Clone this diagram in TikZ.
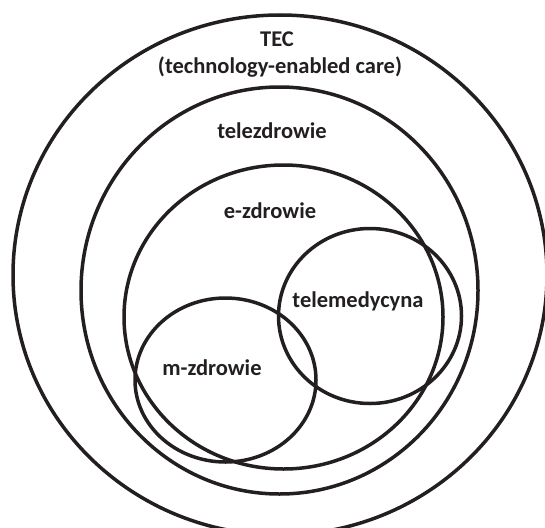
\documentclass[tikz,border=0pt]{standalone}
\usepackage{fontspec}
\setmainfont{Carlito}
\definecolor{ink}{HTML}{231F20}
\begin{document}
\begin{tikzpicture}[x=1pt,y=-1pt,
    ring/.style={draw=ink,line width=3.5pt},
    label/.style={text=ink,font=\fontsize{22.5}{27}\selectfont\bfseries,inner sep=0pt}]
  \useasboundingbox (0,0) rectangle (545,527);
  \clip (0,0) rectangle (545,527);

  % nested areas
  \draw[ring] (280,275) ellipse [x radius=267pt,y radius=260pt];
  \draw[ring] (279.5,290.5) ellipse [x radius=198.5pt,y radius=203.5pt];
  \draw[ring] (283.5,317) ellipse [x radius=159.5pt,y radius=152pt];
  \draw[ring] (370,316) ellipse [x radius=91.5pt,y radius=87.5pt];
  \draw[ring] (225.5,380) ellipse [x radius=90.5pt,y radius=82pt];

  \node[label,anchor=base] (tec) at (277,46.5) {TEC};
  \node[label,anchor=base] (tecfull) at (280,74) {(technology-enabled care)};
  \node[label,anchor=base] (tele) at (272,138) {telezdrowie};
  \node[label,anchor=base] (ehealth) at (270,218) {e-zdrowie};
  \node[label,anchor=base] (telemed) at (358,307) {telemedycyna};
  \node[label,anchor=base] (mhealth) at (212,375) {m-zdrowie};
\end{tikzpicture}
\end{document}
